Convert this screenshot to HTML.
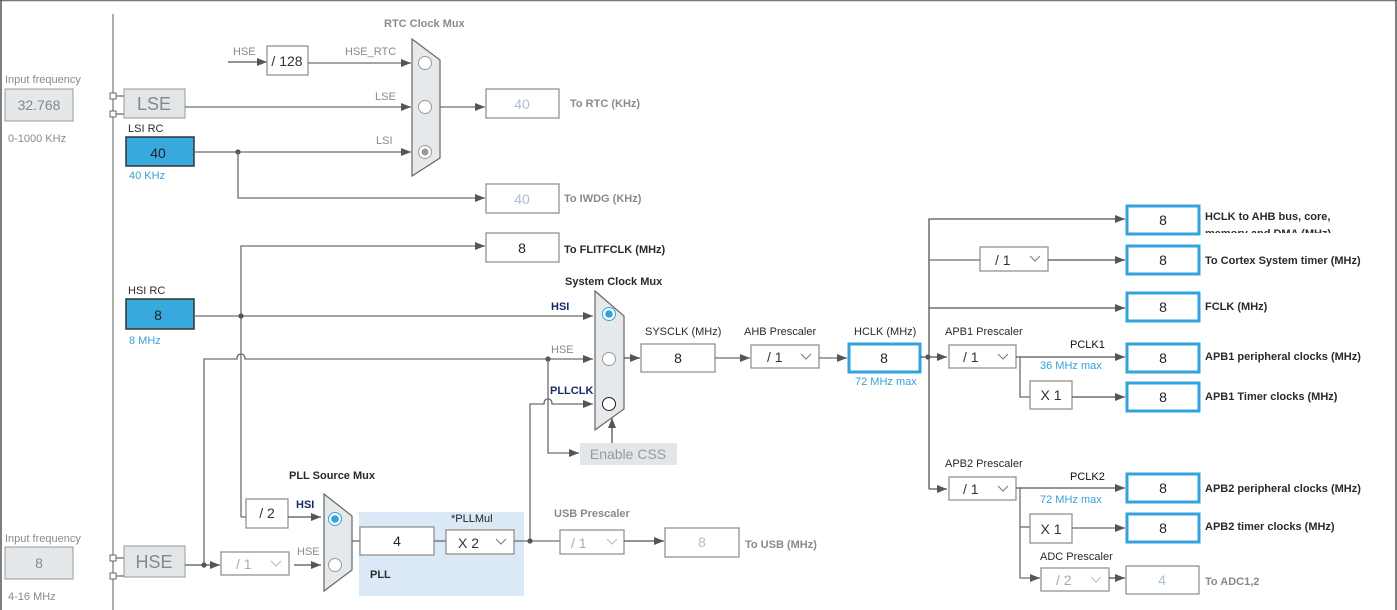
<!DOCTYPE html>
<html><head><meta charset="utf-8"><style>
html,body{margin:0;padding:0;background:#fff;}
svg{display:block;font-family:"Liberation Sans",Arial,sans-serif;}
.l{stroke:#6d6d6d;stroke-width:1.3;fill:none;}
.lb{stroke:#555;stroke-width:1.3;fill:none;}
.g{fill:#8a8a8a;font-size:11px;}
.d{fill:#2a2a2a;font-size:11px;}
.b{font-weight:bold;}
.bl{fill:#3aa0d8;font-size:11px;}
.nv{fill:#1a2a6a;font-size:11px;font-weight:bold;}
.box{fill:#fff;stroke:#8a8a8a;stroke-width:1.2;}
.ob{fill:#fff;stroke:#32a3dc;stroke-width:3;}
</style></head><body>
<svg width="1397" height="610" viewBox="0 0 1397 610" xmlns="http://www.w3.org/2000/svg">
<defs>
<marker id="a" markerWidth="10" markerHeight="8" refX="10" refY="4" orient="auto" markerUnits="userSpaceOnUse"><path d="M0,0 L10,4 L0,8 z" fill="#555"/></marker>
</defs>
<line x1="0" y1="0.5" x2="1397" y2="0.5" stroke="#777" stroke-width="1.5"/>
<line x1="1" y1="0" x2="1" y2="610" stroke="#555" stroke-width="1.5"/>
<line x1="1396" y1="0" x2="1396" y2="610" stroke="#555" stroke-width="1.5"/>
<line x1="113" y1="14" x2="113" y2="610" stroke="#777" stroke-width="1.2"/>

<text x="5" y="83" class="g">Input frequency</text>
<rect x="5" y="89" width="68" height="32" fill="#e5e8eb" stroke="#999"/>
<text x="39" y="110" text-anchor="middle" fill="#888" font-size="14">32.768</text>
<text x="8" y="142" class="g">0-1000 KHz</text>
<rect x="110" y="93" width="6" height="6" fill="#fff" stroke="#666"/>
<rect x="110" y="111" width="6" height="6" fill="#fff" stroke="#666"/>
<line x1="116" y1="96" x2="124" y2="96" class="l"/><line x1="116" y1="114" x2="124" y2="114" class="l"/>
<rect x="124" y="89" width="61" height="29" fill="#e3e6e9" stroke="#999"/>
<text x="154" y="110" text-anchor="middle" fill="#888" font-size="18">LSE</text>
<text x="128" y="132" class="d">LSI RC</text>
<rect x="126" y="137" width="68" height="29" fill="#38a9dc" stroke="#333" stroke-width="1.5"/>
<text x="158" y="158" text-anchor="middle" fill="#222" font-size="14">40</text>
<text x="129" y="179" class="bl">40 KHz</text>

<text x="384" y="27" class="g b">RTC Clock Mux</text>
<text x="233" y="55" class="g">HSE</text>
<line x1="228" y1="62" x2="267" y2="62" class="lb" marker-end="url(#a)"/>
<rect x="267" y="46" width="41" height="29" class="box"/>
<text x="287" y="66" text-anchor="middle" fill="#333" font-size="14">/ 128</text>
<text x="345" y="55" class="g">HSE_RTC</text>
<line x1="308" y1="63" x2="411" y2="63" class="l" marker-end="url(#a)"/>
<text x="375" y="100" class="g">LSE</text>
<line x1="185" y1="107" x2="411" y2="107" class="l" marker-end="url(#a)"/>
<text x="376" y="144" class="g">LSI</text>
<line x1="194" y1="152" x2="411" y2="152" class="l" marker-end="url(#a)"/>
<circle cx="238" cy="152" r="2.6" fill="#555"/>
<polyline points="238,152 238,198 485,198" class="l" marker-end="url(#a)"/>
<polygon points="412,39 440,60 440,158 412,176" fill="#e6e9ec" stroke="#666" stroke-width="1.2"/>
<circle cx="425" cy="63" r="6.5" fill="#fff" stroke="#999"/>
<circle cx="425" cy="107" r="6.5" fill="#fff" stroke="#999"/>
<circle cx="425" cy="152" r="6.5" fill="#fff" stroke="#999"/><circle cx="425" cy="152" r="3.5" fill="#999"/>
<line x1="440" y1="107" x2="485" y2="107" class="l" marker-end="url(#a)"/>
<rect x="486" y="89" width="73" height="29" class="box"/>
<text x="522" y="109" text-anchor="middle" fill="#aac0d8" font-size="14">40</text>
<text x="570" y="107" class="g b">To RTC (KHz)</text>
<rect x="486" y="184" width="73" height="29" class="box"/>
<text x="522" y="204" text-anchor="middle" fill="#aac0d8" font-size="14">40</text>
<text x="564" y="202" class="g b">To IWDG (KHz)</text>

<rect x="486" y="233" width="73" height="29" class="box" stroke="#777"/>
<text x="522" y="253" text-anchor="middle" fill="#222" font-size="14">8</text>
<text x="564" y="253" class="d b">To FLITFCLK (MHz)</text>
<path d="M241,517 L241,246 L485,246" class="l" marker-end="url(#a)"/>
<line x1="241" y1="517" x2="246" y2="517" class="l"/>

<text x="128" y="294" class="d">HSI RC</text>
<rect x="126" y="299" width="68" height="30" fill="#38a9dc" stroke="#333" stroke-width="1.5"/>
<text x="158" y="320" text-anchor="middle" fill="#222" font-size="14">8</text>
<text x="129" y="344" class="bl">8 MHz</text>
<line x1="194" y1="316" x2="593" y2="316" class="l" marker-end="url(#a)"/>
<circle cx="241" cy="316" r="2.6" fill="#555"/>
<text x="551" y="310" class="nv">HSI</text>
<path d="M204,565 L204,359 L237,359 Q237,354 241,354 Q245,354 245,359 L593,359" class="l" marker-end="url(#a)"/>
<text x="551" y="353" class="g">HSE</text>
<circle cx="548" cy="359" r="2.6" fill="#555"/>
<path d="M548,359 L548,453 L579,453" class="l" marker-end="url(#a)"/>
<path d="M530,541 L530,404 L544,404 Q544,399 548,399 Q552,399 552,404 L593,404" class="l" marker-end="url(#a)"/>
<text x="550" y="394" class="nv">PLLCLK</text>
<rect x="580" y="443" width="97" height="22" fill="#e3e6e9"/>
<text x="628" y="459" text-anchor="middle" fill="#999" font-size="14">Enable CSS</text>
<line x1="612" y1="443" x2="612" y2="418" class="lb" marker-end="url(#a)"/>

<text x="565" y="285" class="d b">System Clock Mux</text>
<polygon points="595,291 624,316 624,409 595,430" fill="#e6e9ec" stroke="#666" stroke-width="1.2"/>
<circle cx="609" cy="314" r="6.5" fill="#fff" stroke="#32a3dc"/><circle cx="609" cy="314" r="3.8" fill="#32a3dc"/>
<circle cx="609" cy="359" r="6.5" fill="#fff" stroke="#999"/>
<circle cx="609" cy="404" r="6.5" fill="#fff" stroke="#222"/>
<line x1="624" y1="358" x2="640" y2="358" class="lb" marker-end="url(#a)"/>
<text x="645" y="335" class="d">SYSCLK (MHz)</text>
<rect x="641" y="344" width="74" height="28" class="box" stroke="#777"/>
<text x="678" y="363" text-anchor="middle" fill="#222" font-size="14">8</text>
<line x1="715" y1="358" x2="750" y2="358" class="l" marker-end="url(#a)"/>
<text x="744" y="335" class="d">AHB Prescaler</text>
<rect x="751" y="345" width="68" height="23" class="box"/>
<text x="767" y="362" fill="#333" font-size="14">/ 1</text>
<path d="M801,354 L806,359 L811,354" stroke="#777" fill="none"/>
<line x1="819" y1="358" x2="847" y2="358" class="l" marker-end="url(#a)"/>
<text x="854" y="335" class="d">HCLK (MHz)</text>
<rect x="849" y="344" width="71" height="28" class="ob"/>
<text x="884" y="363" text-anchor="middle" fill="#222" font-size="14">8</text>
<text x="855" y="385" class="bl">72 MHz max</text>
<line x1="920" y1="357" x2="947" y2="357" class="lb" marker-end="url(#a)"/>
<circle cx="928" cy="357" r="2.6" fill="#555"/>
<polyline points="929,489 929,219 1125,219" class="lb" marker-end="url(#a)"/>
<line x1="929" y1="489" x2="947" y2="489" class="lb" marker-end="url(#a)"/>
<line x1="929" y1="260" x2="980" y2="260" class="l"/>
<rect x="980" y="247" width="68" height="24" class="box"/>
<text x="995" y="265" fill="#333" font-size="14">/ 1</text>
<path d="M1030,256 L1035,261 L1040,256" stroke="#777" fill="none"/>
<line x1="1048" y1="260" x2="1125" y2="260" class="lb" marker-end="url(#a)"/>
<line x1="929" y1="308" x2="1125" y2="308" class="lb" marker-end="url(#a)"/>

<text x="945" y="335" class="d">APB1 Prescaler</text>
<rect x="949" y="345" width="67" height="23" class="box"/>
<text x="963" y="362" fill="#333" font-size="14">/ 1</text>
<path d="M998,354 L1003,359 L1008,354" stroke="#777" fill="none"/>
<line x1="1016" y1="357" x2="1125" y2="357" class="lb" marker-end="url(#a)"/>
<text x="1070" y="348" fill="#111" font-size="11">PCLK1</text>
<text x="1040" y="369" class="bl">36 MHz max</text>
<polyline points="1020,357 1020,397 1030,397" class="l"/>
<rect x="1030" y="381" width="42" height="28" class="box"/>
<text x="1051" y="400" text-anchor="middle" fill="#333" font-size="14">X 1</text>
<line x1="1072" y1="397" x2="1125" y2="397" class="lb" marker-end="url(#a)"/>

<text x="945" y="467" class="d">APB2 Prescaler</text>
<rect x="949" y="477" width="67" height="23" class="box"/>
<text x="963" y="494" fill="#333" font-size="14">/ 1</text>
<path d="M998,486 L1003,491 L1008,486" stroke="#777" fill="none"/>
<line x1="1016" y1="488" x2="1125" y2="488" class="lb" marker-end="url(#a)"/>
<text x="1070" y="480" fill="#111" font-size="11">PCLK2</text>
<text x="1040" y="503" class="bl">72 MHz max</text>
<polyline points="1020,488 1020,578 1040,578" class="l" marker-end="url(#a)"/>
<line x1="1020" y1="527" x2="1030" y2="527" class="l"/>
<rect x="1030" y="514" width="42" height="29" class="box"/>
<text x="1051" y="534" text-anchor="middle" fill="#333" font-size="14">X 1</text>
<line x1="1072" y1="528" x2="1125" y2="528" class="l" marker-end="url(#a)"/>
<text x="1040" y="560" class="d">ADC Prescaler</text>
<rect x="1041" y="568" width="68" height="23" class="box"/>
<text x="1056" y="585" fill="#aaa" font-size="14">/ 2</text>
<path d="M1091,577 L1096,582 L1101,577" stroke="#bbb" fill="none"/>
<line x1="1109" y1="578" x2="1125" y2="578" class="lb" marker-end="url(#a)"/>
<rect x="1126" y="566" width="73" height="28" class="box"/>
<text x="1162" y="585" text-anchor="middle" fill="#aac0d8" font-size="14">4</text>
<text x="1205" y="585" class="g b">To ADC1,2</text>

<g>
<rect x="1127" y="206" width="72" height="28" class="ob"/><text x="1163" y="225" text-anchor="middle" fill="#222" font-size="14">8</text>
<rect x="1127" y="246" width="72" height="28" class="ob"/><text x="1163" y="265" text-anchor="middle" fill="#222" font-size="14">8</text>
<rect x="1127" y="293" width="72" height="28" class="ob"/><text x="1163" y="312" text-anchor="middle" fill="#222" font-size="14">8</text>
<rect x="1127" y="344" width="72" height="28" class="ob"/><text x="1163" y="363" text-anchor="middle" fill="#222" font-size="14">8</text>
<rect x="1127" y="383" width="72" height="28" class="ob"/><text x="1163" y="402" text-anchor="middle" fill="#222" font-size="14">8</text>
<rect x="1127" y="474" width="72" height="28" class="ob"/><text x="1163" y="493" text-anchor="middle" fill="#222" font-size="14">8</text>
<rect x="1127" y="514" width="72" height="28" class="ob"/><text x="1163" y="533" text-anchor="middle" fill="#222" font-size="14">8</text>
</g>
<text x="1205" y="220" class="d b">HCLK to AHB bus, core,</text>
<svg x="1200" y="222" width="190" height="11" overflow="hidden"><text x="5" y="15" class="d b">memory and DMA (MHz)</text></svg>
<text x="1205" y="264" class="d b">To Cortex System timer (MHz)</text>
<text x="1205" y="310" class="d b">FCLK (MHz)</text>
<text x="1205" y="360" class="d b">APB1 peripheral clocks (MHz)</text>
<text x="1205" y="400" class="d b">APB1 Timer clocks (MHz)</text>
<text x="1205" y="492" class="d b">APB2 peripheral clocks (MHz)</text>
<text x="1205" y="530" class="d b">APB2 timer clocks (MHz)</text>

<text x="5" y="542" class="g">Input frequency</text>
<rect x="5" y="547" width="68" height="32" fill="#e5e8eb" stroke="#999"/>
<text x="39" y="568" text-anchor="middle" fill="#888" font-size="14">8</text>
<text x="8" y="600" class="g">4-16 MHz</text>
<rect x="110" y="555" width="6" height="6" fill="#fff" stroke="#666"/>
<rect x="110" y="573" width="6" height="6" fill="#fff" stroke="#666"/>
<line x1="116" y1="558" x2="124" y2="558" class="l"/><line x1="116" y1="576" x2="124" y2="576" class="l"/>
<rect x="124" y="546" width="61" height="31" fill="#e3e6e9" stroke="#999"/>
<text x="154" y="568" text-anchor="middle" fill="#888" font-size="18">HSE</text>
<line x1="185" y1="565" x2="220" y2="565" class="lb" marker-end="url(#a)"/>
<circle cx="204" cy="565" r="2.6" fill="#555"/>
<rect x="221" y="552" width="68" height="23" class="box" stroke="#bbb"/>
<text x="236" y="569" fill="#aaa" font-size="14">/ 1</text>
<path d="M271,561 L276,566 L281,561" stroke="#bbb" fill="none"/>
<line x1="294" y1="565" x2="321" y2="565" class="lb" marker-end="url(#a)"/>
<text x="297" y="555" class="g">HSE</text>
<rect x="246" y="499" width="42" height="29" class="box"/>
<text x="267" y="518" text-anchor="middle" fill="#333" font-size="14">/ 2</text>
<line x1="288" y1="517" x2="321" y2="517" class="lb" marker-end="url(#a)"/>
<text x="296" y="508" class="nv">HSI</text>
<text x="289" y="479" class="d b">PLL Source Mux</text>
<polygon points="324,494 352,516 352,570 324,591" fill="#e6e9ec" stroke="#666" stroke-width="1.2"/>
<circle cx="335" cy="519" r="6.5" fill="#fff" stroke="#32a3dc"/><circle cx="335" cy="519" r="3.8" fill="#32a3dc"/>
<circle cx="335" cy="565" r="6.5" fill="#fff" stroke="#999"/>
<rect x="359" y="512" width="165" height="84" fill="#dbe8f5"/>
<line x1="352" y1="541" x2="360" y2="541" class="l"/>
<rect x="360" y="527" width="74" height="28" class="box" stroke="#777"/>
<text x="397" y="546" text-anchor="middle" fill="#222" font-size="14">4</text>
<line x1="434" y1="541" x2="446" y2="541" class="l"/>
<text x="451" y="522" fill="#222" font-size="11">*PLLMul</text>
<rect x="446" y="530" width="68" height="24" class="box" stroke="#777"/>
<text x="458" y="548" fill="#333" font-size="14">X 2</text>
<path d="M496,539 L501,544 L506,539" stroke="#777" fill="none"/>
<text x="370" y="578" class="d b">PLL</text>
<line x1="514" y1="541" x2="560" y2="541" class="l"/>
<circle cx="530" cy="541" r="2.6" fill="#555"/>
<text x="554" y="517" class="g b">USB Prescaler</text>
<rect x="560" y="530" width="64" height="24" class="box" stroke="#bbb"/>
<text x="571" y="548" fill="#aaa" font-size="14">/ 1</text>
<path d="M607,539 L612,544 L617,539" stroke="#bbb" fill="none"/>
<line x1="624" y1="541" x2="664" y2="541" class="lb" marker-end="url(#a)"/>
<rect x="665" y="528" width="74" height="29" class="box"/>
<text x="702" y="547" text-anchor="middle" fill="#aac0d8" font-size="14">8</text>
<text x="745" y="548" class="g b">To USB (MHz)</text>
</svg>
</body></html>
